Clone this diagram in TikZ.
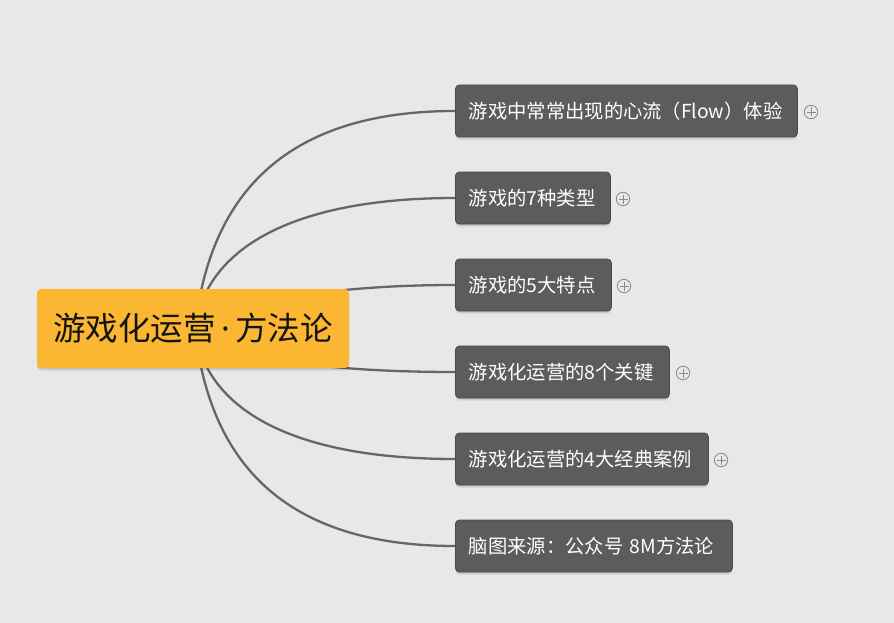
\documentclass[tikz,border=0pt]{standalone}
\usepackage{fontspec}
\setmainfont{Noto Sans CJK SC}
\newfontfamily\latinf{Noto Sans}
\definecolor{bg}{HTML}{E8E8E8}
\definecolor{rootfill}{HTML}{FBB731}
\definecolor{childfill}{HTML}{5C5C5C}
\definecolor{childdraw}{HTML}{4A4A4A}
\definecolor{linkcol}{HTML}{666666}
\definecolor{pluscol}{HTML}{8A8A8A}
\tikzset{
  softshadow/.style={
    preaction={fill=black, opacity=0.06, transform canvas={yshift=-3pt}},
    preaction={fill=black, opacity=0.10, transform canvas={yshift=-1.5pt}}},
  rootbox/.style={fill=rootfill, rounded corners=4pt, minimum width=312pt, minimum height=79pt,
    inner sep=0pt, font=\fontsize{32.5}{38}\selectfont, text=black!92, softshadow},
  childbox/.style={fill=childfill, draw=childdraw, line width=0.8pt, rounded corners=4pt,
    minimum height=52pt, inner xsep=13.5pt, inner ysep=0pt, anchor=west, align=left, text=white,
    font=\fontsize{19.3}{23}\selectfont, softshadow},
  link/.style={draw=linkcol, line width=2.3pt},
  expander/.style={circle, draw=pluscol, line width=0.8pt, minimum size=13.5pt, inner sep=0pt,
    path picture={\draw[pluscol, line width=0.8pt]
      ([xshift=-4.5pt]path picture bounding box.center) -- ([xshift=4.5pt]path picture bounding box.center)
      ([yshift=-4.5pt]path picture bounding box.center) -- ([yshift=4.5pt]path picture bounding box.center);}},
}
\begin{document}
\begin{tikzpicture}[x=1pt,y=-1pt]
\fill[bg] (0,0) rectangle (894,623);
\useasboundingbox (0,0) rectangle (894,623);

\coordinate (rc) at (195,329);
\coordinate (e1p) at (455,111);
\coordinate (e2p) at (455,198);
\coordinate (e3p) at (455,285);
\coordinate (e4p) at (455,372);
\coordinate (e5p) at (455,459);
\coordinate (e6p) at (455,546);

\path[link] (rc) .. controls (210,190) and (290,111) .. (e1p);
\path[link] (rc) .. controls (205,250) and (290,198) .. (e2p);
\path[link] (rc) .. controls (215,314) and (290,285) .. (e3p);
\path[link] (rc) .. controls (215,350) and (290,372) .. (e4p);
\path[link] (rc) .. controls (205,408) and (290,459) .. (e5p);
\path[link] (rc) .. controls (210,468) and (290,546) .. (e6p);

\node[rootbox] (root) at (193,328.5) {游戏化运营{\latinf\,·\,}方法论};

\node[childbox, text width=315pt] (c1) at (e1p) {游戏中常常出现的心流（Flow）体验};
\node[childbox, text width=128pt] (c2) at (e2p) {游戏的7种类型};
\node[childbox, text width=129pt] (c3) at (e3p) {游戏的5大特点};
\node[childbox, text width=187pt] (c4) at (e4p) {游戏化运营的8个关键};
\node[childbox, text width=226pt] (c5) at (e5p) {游戏化运营的4大经典案例};
\node[childbox, text width=250pt] (c6) at (e6p) {脑图来源：公众号 8M方法论};

\node[expander] (x1) at (811,112) {};
\node[expander] (x2) at (623,199) {};
\node[expander] (x3) at (624,286) {};
\node[expander] (x4) at (683,373) {};
\node[expander] (x5) at (721,460) {};
\end{tikzpicture}
\end{document}
